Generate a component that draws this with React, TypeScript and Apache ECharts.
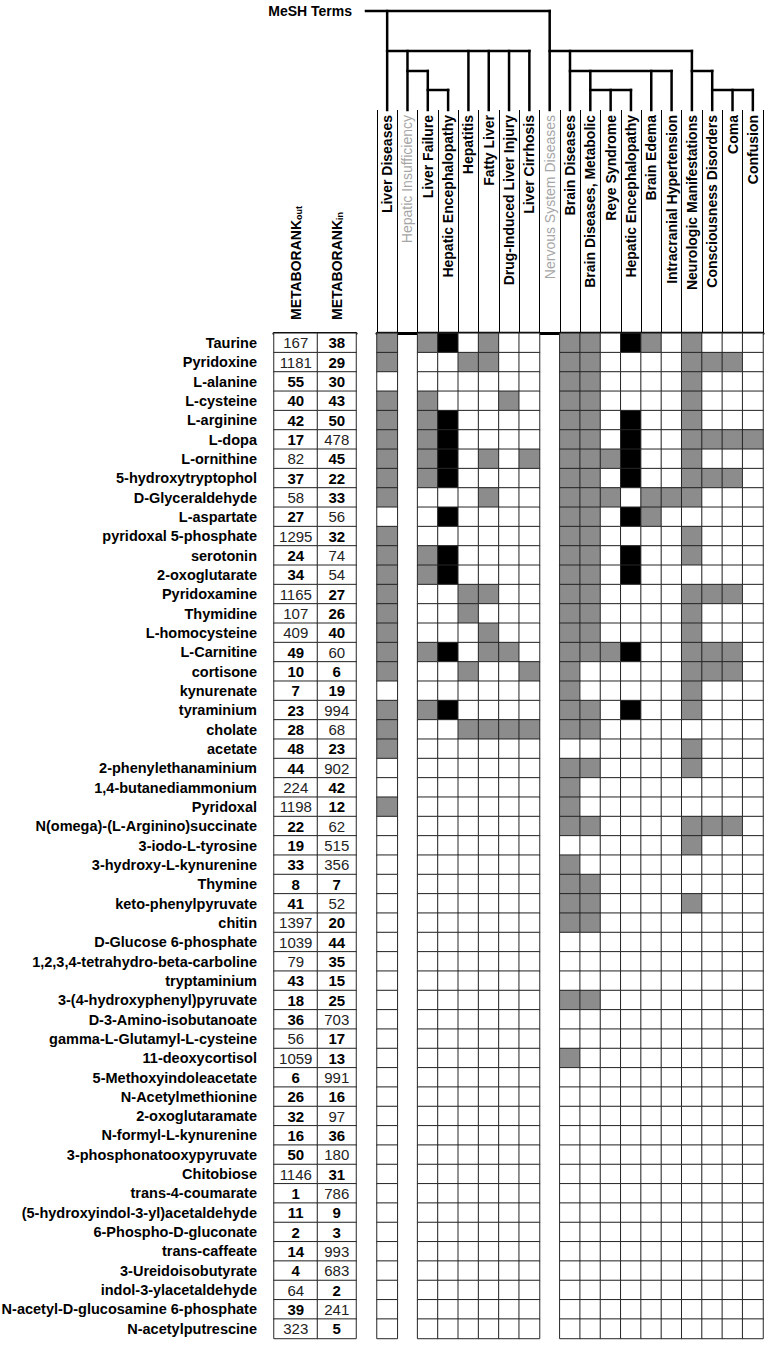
import React, { useEffect, useRef } from 'react';
import * as echarts from 'echarts';

// ---------- DATA ----------
const COLUMNS = [
  'Liver Diseases', 'Hepatic Insufficiency', 'Liver Failure', 'Hepatic Encephalopathy',
  'Hepatitis', 'Fatty Liver', 'Drug-Induced Liver Injury', 'Liver Cirrhosis',
  'Nervous System Diseases', 'Brain Diseases', 'Brain Diseases, Metabolic', 'Reye Syndrome',
  'Hepatic Encephalopathy', 'Brain Edema', 'Intracranial Hypertension',
  'Neurologic Manifestations', 'Consciousness Disorders', 'Coma', 'Confusion',
];
// columns that are only intermediate MeSH nodes (no cells drawn)
const GAP_COLUMNS = [1, 8];

// MeSH hierarchy (col = column index)
const TREE = {
  name: 'MeSH Terms',
  children: [
    {
      col: 0,
      children: [
        { col: 1, children: [{ col: 2, children: [{ col: 3 }] }] },
        { col: 4 }, { col: 5 }, { col: 6 }, { col: 7 },
      ],
    },
    {
      col: 8,
      children: [
        {
          col: 9,
          children: [
            { col: 10, children: [{ col: 11 }, { col: 12 }] },
            { col: 13 },
            { col: 14 },
          ],
        },
        { col: 15, children: [{ col: 16, children: [{ col: 17 }, { col: 18 }] }] },
      ],
    },
  ],
};

const ROWS = [
  'Taurine', 'Pyridoxine', 'L-alanine', 'L-cysteine', 'L-arginine', 'L-dopa', 'L-ornithine',
  '5-hydroxytryptophol', 'D-Glyceraldehyde', 'L-aspartate', 'pyridoxal 5-phosphate', 'serotonin',
  '2-oxoglutarate', 'Pyridoxamine', 'Thymidine', 'L-homocysteine', 'L-Carnitine', 'cortisone',
  'kynurenate', 'tyraminium', 'cholate', 'acetate', '2-phenylethanaminium', '1,4-butanediammonium',
  'Pyridoxal', 'N(omega)-(L-Arginino)succinate', '3-iodo-L-tyrosine', '3-hydroxy-L-kynurenine',
  'Thymine', 'keto-phenylpyruvate', 'chitin', 'D-Glucose 6-phosphate',
  '1,2,3,4-tetrahydro-beta-carboline', 'tryptaminium', '3-(4-hydroxyphenyl)pyruvate',
  'D-3-Amino-isobutanoate', 'gamma-L-Glutamyl-L-cysteine', '11-deoxycortisol',
  '5-Methoxyindoleacetate', 'N-Acetylmethionine', '2-oxoglutaramate', 'N-formyl-L-kynurenine',
  '3-phosphonatooxypyruvate', 'Chitobiose', 'trans-4-coumarate', '(5-hydroxyindol-3-yl)acetaldehyde',
  '6-Phospho-D-gluconate', 'trans-caffeate', '3-Ureidoisobutyrate', 'indol-3-ylacetaldehyde',
  'N-acetyl-D-glucosamine 6-phosphate', 'N-acetylputrescine',
];

const RANK_OUT = [
  167, 1181, 55, 40, 42, 17, 82, 37, 58, 27, 1295, 24, 34, 1165, 107, 409, 49, 10, 7, 23, 28, 48,
  44, 224, 1198, 22, 19, 33, 8, 41, 1397, 1039, 79, 43, 18, 36, 56, 1059, 6, 26, 32, 16, 50, 1146,
  1, 11, 2, 14, 4, 64, 39, 323,
];
const RANK_IN = [
  38, 29, 30, 43, 50, 478, 45, 22, 33, 56, 32, 74, 54, 27, 26, 40, 60, 6, 19, 994, 68, 23, 902,
  42, 12, 62, 515, 356, 7, 52, 20, 44, 35, 15, 25, 703, 17, 13, 991, 16, 97, 36, 180, 31, 786, 9,
  3, 993, 683, 2, 241, 5,
];
const RANK_NAMES = ['out', 'in'];
const OUT_BOLD_MAX = 55;
const IN_BOLD_MAX = 50;

// cell states: 0 = no, 1 = grey, 2 = black, '-' = no cell (intermediate node)
const CELLS = [
  '1-120100-1102101000',
  '1-001100-1100001110',
  '0-000000-1100001000',
  '1-100010-1100001000',
  '1-120000-1102001000',
  '1-120000-1102001111',
  '1-120101-1112001000',
  '1-120000-1102001110',
  '1-000100-1110111000',
  '0-020000-1102100000',
  '1-000000-1100001000',
  '1-120000-1102001000',
  '1-120000-1102000000',
  '1-001100-1100001110',
  '1-001000-1100001000',
  '1-000100-1100001000',
  '1-120110-1112001110',
  '1-001001-1000001110',
  '0-000000-1000001000',
  '1-120000-1102001000',
  '1-001111-1100000000',
  '1-000000-0000001000',
  '0-000000-1100001000',
  '0-000000-1000000000',
  '1-000000-1000000000',
  '0-000000-1100001110',
  '0-000000-0000001000',
  '0-000000-1000000000',
  '0-000000-1100000000',
  '0-000000-1100001000',
  '0-000000-1100000000',
  '0-000000-0000000000',
  '0-000000-0000000000',
  '0-000000-0000000000',
  '0-000000-1100000000',
  '0-000000-0000000000',
  '0-000000-0000000000',
  '0-000000-1000000000',
  '0-000000-0000000000',
  '0-000000-0000000000',
  '0-000000-0000000000',
  '0-000000-0000000000',
  '0-000000-0000000000',
  '0-000000-0000000000',
  '0-000000-0000000000',
  '0-000000-0000000000',
  '0-000000-0000000000',
  '0-000000-0000000000',
  '0-000000-0000000000',
  '0-000000-0000000000',
  '0-000000-0000000000',
  '0-000000-0000000000',
];

// ---------- STYLE / LAYOUT ----------
const FONT = "'Liberation Sans', Arial, sans-serif";
const SHADES = ['#ffffff', '#8c8c8c', '#000000'];
const W = 769;
const H = 1345;
const GRID_TOP = 333.3;
const ROW_H = 19.33;
const GRID_H = ROW_H * ROWS.length;
const HEAT_LEFT = 377;
const HEAT_W = 386;
const OUT_LEFT = 274;
const OUT_W = 43.5;
const IN_W = 38.5;
const HEADER_TOP = 110;
const HEADER_TEXT_TOP = 115;
const RANK_TEXT_BOTTOM = 320;
const LEVEL_Y = [11, 51, 71, 90];
const MESH_TEXT_RIGHT = 352;
const ROOT_LINE_START = 366;

const COL_KEYS = COLUMNS.map((_, i) => String(i));

const rankLabel = (max: number) => (p: any) => {
  const v = p.value[2];
  return `{${v <= max ? 'b' : 'n'}|${v}}`;
};
const rankRich = {
  b: { fontFamily: FONT, fontWeight: 'bold', fontSize: 15, color: '#000' },
  n: { fontFamily: FONT, fontWeight: 'normal', fontSize: 15, color: '#222' },
};
const rankAxis = (gridIndex: number, name: string) => ({
  gridIndex,
  type: 'category',
  data: [name],
  position: 'top',
  axisLine: { show: true, lineStyle: { color: '#000', width: 3 } },
  axisTick: { show: false },
  axisLabel: { show: false },
});

export default function App() {
  const ref = useRef<HTMLDivElement>(null);

  useEffect(() => {
    document.body.style.margin = '0';
    if (!ref.current) return;
    const chart = echarts.init(ref.current, undefined, { renderer: 'svg', width: W, height: H });

    const heatData: any[] = [];
    CELLS.forEach((s, r) => {
      s.split('').forEach((ch, c) => {
        if (ch === '-') return;
        heatData.push([c, r, Number(ch)]);
      });
    });
    const outData = RANK_OUT.map((v, r) => [0, r, v]);
    const inData = RANK_IN.map((v, r) => [0, r, v]);

    const option: any = {
      animation: false,
      textStyle: { fontFamily: FONT },
      visualMap: [
        {
          type: 'piecewise',
          show: false,
          seriesIndex: 0,
          dimension: 2,
          pieces: SHADES.map((color, value) => ({ value, color })),
        },
        {
          type: 'piecewise',
          show: false,
          seriesIndex: [1, 2],
          dimension: 2,
          pieces: [{ min: 0, max: 1000000, color: '#ffffff' }],
        },
      ],
      grid: [
        { left: HEAT_LEFT, top: GRID_TOP, width: HEAT_W, height: GRID_H, outerBoundsMode: 'none' },
        { left: OUT_LEFT, top: GRID_TOP, width: OUT_W, height: GRID_H, outerBoundsMode: 'none' },
        { left: OUT_LEFT + OUT_W, top: GRID_TOP, width: IN_W, height: GRID_H, outerBoundsMode: 'none' },
        { left: HEAT_LEFT, top: HEADER_TOP, width: HEAT_W, height: GRID_TOP - HEADER_TOP, outerBoundsMode: 'none' },
      ],
      xAxis: [
        { gridIndex: 0, type: 'category', data: COL_KEYS, show: false },
        rankAxis(1, RANK_NAMES[0]),
        rankAxis(2, RANK_NAMES[1]),
        {
          gridIndex: 3,
          type: 'category',
          data: COL_KEYS,
          position: 'top',
          axisLine: { show: true, lineStyle: { color: '#000', width: 3 } },
          axisTick: { show: false },
          axisLabel: { show: false },
          splitLine: { show: true, interval: 0, lineStyle: { color: '#000', width: 1 } },
        },
      ],
      yAxis: [
        { gridIndex: 0, type: 'category', data: ROWS, inverse: true, show: false },
        {
          gridIndex: 1,
          type: 'category',
          data: ROWS,
          inverse: true,
          axisLine: { show: false },
          axisTick: { show: false },
          axisLabel: {
            interval: 0,
            margin: 17,
            fontFamily: FONT,
            fontWeight: 'bold',
            fontSize: 14.5,
            color: '#000',
          },
        },
        { gridIndex: 2, type: 'category', data: ROWS, inverse: true, show: false },
        { gridIndex: 3, type: 'value', show: false },
      ],
      series: [
        {
          type: 'heatmap',
          xAxisIndex: 0,
          yAxisIndex: 0,
          data: heatData,
          itemStyle: { borderColor: '#262626', borderWidth: 1 },
          emphasis: { disabled: true },
        },
        {
          type: 'heatmap',
          xAxisIndex: 1,
          yAxisIndex: 1,
          data: outData,
          itemStyle: { borderColor: '#262626', borderWidth: 1 },
          emphasis: { disabled: true },
          label: { show: true, formatter: rankLabel(OUT_BOLD_MAX), rich: rankRich },
        },
        {
          type: 'heatmap',
          xAxisIndex: 2,
          yAxisIndex: 2,
          data: inData,
          itemStyle: { borderColor: '#262626', borderWidth: 1 },
          emphasis: { disabled: true },
          label: { show: true, formatter: rankLabel(IN_BOLD_MAX), rich: rankRich },
        },
      ],
    };
    chart.setOption(option);

    // ----- headers, dendrogram + rules, positioned through the axis scales -----
    const colX = (c: number) => (chart.convertToPixel({ gridIndex: 0 } as any, [c, 0]) as number[])[0];
    const rankX = (g: number) => (chart.convertToPixel({ gridIndex: g } as any, [0, 0]) as number[])[0];
    const colW = HEAT_W / COLUMNS.length;
    const lineStyle = { stroke: '#000', lineWidth: 2.5, lineCap: 'square' };
    const elements: any[] = [];
    const seg = (x1: number, y1: number, x2: number, y2: number, style: any = lineStyle) =>
      elements.push({ type: 'line', shape: { x1, y1, x2, y2 }, style, silent: true });

    // vertical column headers (reading bottom -> top, hanging from the header top)
    COLUMNS.forEach((name, i) => {
      const gap = GAP_COLUMNS.includes(i);
      elements.push({
        type: 'text',
        silent: true,
        x: colX(i),
        y: HEADER_TEXT_TOP,
        rotation: Math.PI / 2,
        style: {
          text: name,
          x: 0,
          y: 0,
          align: 'right',
          verticalAlign: 'middle',
          fontFamily: FONT,
          fontWeight: gap ? 'normal' : 'bold',
          fontSize: 14,
          fill: gap ? '#a6a6a6' : '#000',
        },
      });
    });

    // METABORANK headers (reading bottom -> top, standing on the table)
    RANK_NAMES.forEach((name, k) => {
      elements.push({
        type: 'text',
        silent: true,
        x: rankX(k + 1),
        y: RANK_TEXT_BOTTOM,
        rotation: Math.PI / 2,
        style: {
          text: `{m|METABORANK}{s|${name}}`,
          x: 0,
          y: 0,
          align: 'left',
          verticalAlign: 'middle',
          rich: {
            m: { fontFamily: FONT, fontWeight: 'bold', fontSize: 14, fill: '#000' },
            s: { fontFamily: FONT, fontWeight: 'bold', fontSize: 9, fill: '#000', verticalAlign: 'bottom', padding: [6, 0, 0, 0] },
          },
        },
      });
    });

    const walk = (node: any, depth: number) => {
      const x = depth === 0 ? ROOT_LINE_START : colX(node.col);
      if (depth > 0) seg(x, LEVEL_Y[depth - 1], x, HEADER_TOP);
      if (node.children && node.children.length) {
        const last = node.children[node.children.length - 1];
        seg(x, LEVEL_Y[depth], colX(last.col), LEVEL_Y[depth]);
        node.children.forEach((ch: any) => walk(ch, depth + 1));
      }
    };
    walk(TREE, 0);

    elements.push({
      type: 'text',
      silent: true,
      style: {
        text: TREE.name,
        x: MESH_TEXT_RIGHT,
        y: LEVEL_Y[0],
        align: 'right',
        verticalAlign: 'middle',
        fontFamily: FONT,
        fontWeight: 'bold',
        fontSize: 14,
        fill: '#000',
      },
    });

    // thick rule on top of the cell groups (not over intermediate-node columns)
    let start = -1;
    for (let c = 0; c <= COLUMNS.length; c++) {
      const isCell = c < COLUMNS.length && !GAP_COLUMNS.includes(c);
      if (isCell && start < 0) start = c;
      if (!isCell && start >= 0) {
        seg(colX(start) - colW / 2, GRID_TOP, colX(c - 1) + colW / 2, GRID_TOP, {
          stroke: '#000',
          lineWidth: 3,
          lineCap: 'butt',
        });
        start = -1;
      }
    }

    chart.setOption({ graphic: { elements } });

    return () => chart.dispose();
  }, []);

  return <div ref={ref} style={{ width: W, height: H }} />;
}
